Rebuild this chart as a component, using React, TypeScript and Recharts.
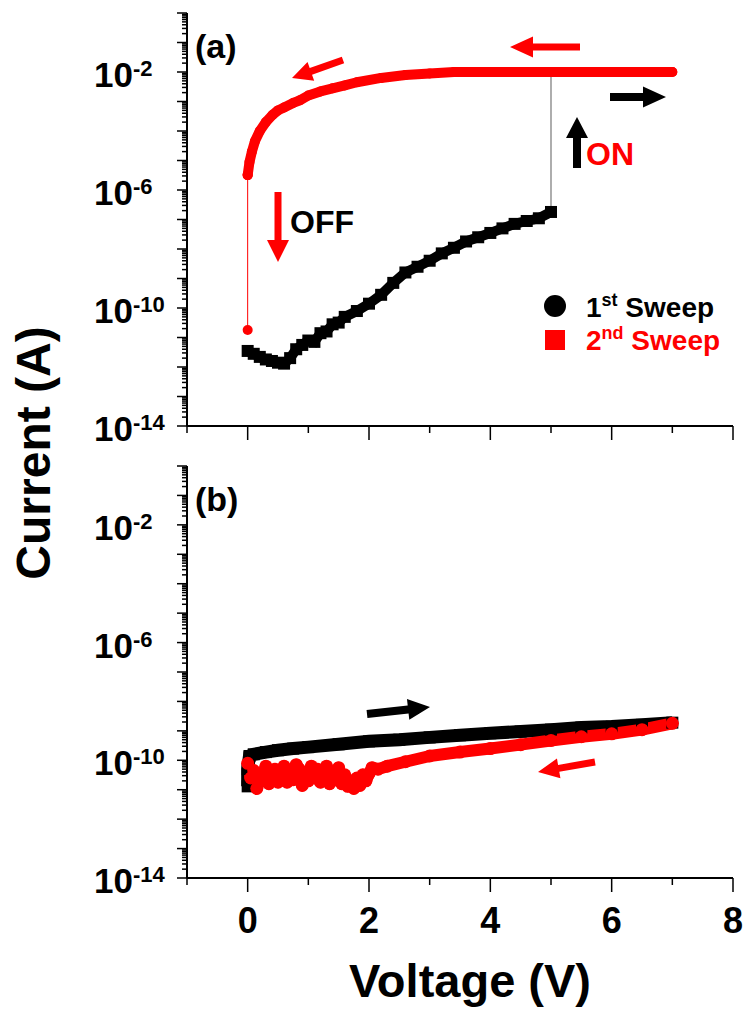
import React from 'react';
import { ComposedChart, Line, XAxis, YAxis, Customized } from 'recharts';

const FONT = "'Liberation Sans', Arial, Helvetica, sans-serif";
const RED = '#ff0000';

// x axis (Voltage, V)
const xTicks = [-1, 0, 1, 2, 3, 4, 5, 6, 7, 8];
// y axis (Current, A) – decades shown, labelled decades
const decadeExps = [-14, -13, -12, -11, -10, -9, -8, -7, -6, -5, -4, -3, -2, -1, 0];
const labelExps = [-14, -10, -6, -2];
const minorSteps = [2, 3, 4, 5, 6, 7, 8, 9];

// (a) 1st sweep, 0 -> 5 V (OFF state)
const sweep1aV = [0, 0.1, 0.2, 0.3, 0.4, 0.5, 0.6, 0.7, 0.8, 0.9, 1.0, 1.1, 1.2, 1.3, 1.4, 1.5, 1.6, 1.8, 2.0, 2.2, 2.4, 2.6, 2.8, 3.0, 3.2, 3.4, 3.6, 3.8, 4.0, 4.2, 4.4, 4.6, 4.8, 5.0];
const sweep1aI = [3.5e-12, 2.8e-12, 2.2e-12, 1.8e-12, 1.6e-12, 1.4e-12, 1.3e-12, 2.0e-12, 4.0e-12, 5.6e-12, 7.9e-12, 7.1e-12, 1.4e-11, 1.6e-11, 2.8e-11, 3.2e-11, 5.0e-11, 7.9e-11, 1.4e-10, 2.8e-10, 7.1e-10, 1.6e-9, 2.5e-9, 4.0e-9, 7.1e-9, 1.1e-8, 1.8e-8, 2.5e-8, 3.5e-8, 5.0e-8, 7.1e-8, 8.9e-8, 1.1e-7, 1.8e-7];
// (a) set jump at 5 V
const setV = [5, 5];
const setI = [1.8e-7, 1e-2];
// (a) 2nd sweep, 7 -> 0 V (ON state)
const sweep2aV = [7.0, 6.0, 5.0, 4.0, 3.4, 3.0, 2.6, 2.2, 1.8, 1.6, 1.4, 1.2, 1.0, 0.86, 0.75, 0.6, 0.5, 0.41, 0.3, 0.2, 0.12, 0.07, 0.03, 0.0];
const sweep2aI = [1e-2, 1e-2, 1e-2, 1e-2, 1e-2, 8.9e-3, 7.9e-3, 6.3e-3, 4.5e-3, 3.5e-3, 2.8e-3, 2.2e-3, 1.6e-3, 1.1e-3, 8.9e-4, 6.3e-4, 5.0e-4, 3.5e-4, 2.0e-4, 1.0e-4, 4.5e-5, 2.0e-5, 8.9e-6, 3.2e-6];
// (a) reset drop at 0 V
const resetV = [0, 0];
const resetI = [3.2e-6, 1.8e-11];

// (b) 1st sweep 0 -> 7 V
const sweep1bV = [0, 0, 0.03, 0.1, 0.3, 0.5, 0.75, 1.0, 1.5, 2.0, 2.5, 3.0, 3.5, 4.0, 4.5, 5.0, 5.5, 6.0, 6.5, 7.0];
const sweep1bI = [1.3e-11, 5.0e-11, 1.4e-10, 1.6e-10, 1.9e-10, 2.2e-10, 2.5e-10, 2.8e-10, 3.5e-10, 4.4e-10, 5.0e-10, 6.0e-10, 7.1e-10, 8.3e-10, 9.5e-10, 1.1e-9, 1.3e-9, 1.4e-9, 1.6e-9, 1.9e-9];
// (b) 2nd sweep 7 -> 0 V (noisy below 2 V)
const sweep2bV = [
  7.0, 6.5, 6.0, 5.5, 5.0, 4.5, 4.0, 3.5, 3.0, 2.6, 2.3, 2.15,
  2.05, 2.0, 1.95, 1.9, 1.85, 1.8, 1.75, 1.7, 1.65, 1.6, 1.55, 1.5, 1.45, 1.4, 1.35, 1.3, 1.25, 1.2, 1.15, 1.1, 1.05,
  1.0, 0.95, 0.9, 0.85, 0.8, 0.75, 0.7, 0.65, 0.6, 0.55, 0.5, 0.45, 0.4, 0.35, 0.3, 0.25, 0.2, 0.15, 0.1, 0.05, 0.0,
];
const sweep2bI = [
  1.8e-9, 1.1e-9, 7.9e-10, 6.3e-10, 4.7e-10, 3.4e-10, 2.5e-10, 1.9e-10, 1.4e-10, 8.9e-11, 6.3e-11, 5.0e-11,
  5.6e-11, 3.5e-11, 2.0e-11, 3.2e-11, 1.4e-11, 2.5e-11, 1.1e-11, 2.0e-11, 1.3e-11, 3.2e-11, 1.6e-11, 5.6e-11, 2.2e-11, 4.0e-11, 1.6e-11, 6.3e-11, 2.8e-11, 1.8e-11, 5.0e-11, 2.5e-11, 6.3e-11,
  2.0e-11, 3.5e-11, 1.4e-11, 5.0e-11, 7.1e-11, 2.2e-11, 4.5e-11, 1.8e-11, 6.3e-11, 2.8e-11, 1.8e-11, 5.0e-11, 2.5e-11, 1.6e-11, 6.3e-11, 3.2e-11, 2.0e-11, 1.1e-11, 4.5e-11, 2.5e-11, 7.9e-11,
];

const legendItems = [
  { num: '1', sup: 'st', color: '#000', shape: 'circle' },
  { num: '2', sup: 'nd', color: RED, shape: 'square' },
];

const pts = (vs: number[], is: number[]) => vs.map((v, k) => ({ v, i: is[k] }));

const yTicks: number[] = [];
decadeExps.forEach((n) => {
  yTicks.push(Math.pow(10, n));
  if (n < 0) minorSteps.forEach((m) => yTicks.push(m * Math.pow(10, n)));
});

const YTick = (props: any) => {
  const { x, y, payload } = props;
  const e = Math.log10(payload.value);
  const n = Math.round(e);
  const major = Math.abs(e - n) < 1e-6;
  return (
    <g>
      <line x1={x} x2={x - (major ? 10 : 5)} y1={y} y2={y} stroke="#000" strokeWidth={1.5} />
      {major && labelExps.includes(n) && (
        <text x={x - 93} y={y + 15} fontFamily={FONT} fontWeight="bold" fontSize={35} fill="#000">
          10
          <tspan dy={-11} fontSize={22}>{String(n)}</tspan>
        </text>
      )}
    </g>
  );
};

const makeXTick = (showLabel: boolean) => (props: any) => {
  const { x, y, payload } = props;
  const v = payload.value;
  const major = v % 2 === 0;
  return (
    <g>
      <line x1={x} x2={x} y1={y} y2={y + (major ? 14 : 7)} stroke="#000" strokeWidth={1.5} />
      {showLabel && major && (
        <text x={x} y={y + 55} textAnchor="middle" fontFamily={FONT} fontWeight="bold" fontSize={36} fill="#000">
          {v}
        </text>
      )}
    </g>
  );
};

function arrow(x1: number, y1: number, x2: number, y2: number, shaft: number, headLen: number, headW: number, color: string) {
  const dx = x2 - x1;
  const dy = y2 - y1;
  const len = Math.hypot(dx, dy);
  const ux = dx / len;
  const uy = dy / len;
  const px = -uy;
  const py = ux;
  const bx = x2 - ux * headLen;
  const by = y2 - uy * headLen;
  const s = shaft / 2;
  const h = headW / 2;
  const p = [
    [x1 + px * s, y1 + py * s],
    [bx + px * s, by + py * s],
    [bx + px * h, by + py * h],
    [x2, y2],
    [bx - px * h, by - py * h],
    [bx - px * s, by - py * s],
    [x1 - px * s, y1 - py * s],
  ];
  return <polygon points={p.map((q) => q.join(',')).join(' ')} fill={color} />;
}

const squareDot = (size: number) => (props: any) => {
  const { cx, cy, index } = props;
  if (cx == null || cy == null) return <g key={index} />;
  return <rect key={index} x={cx - size / 2} y={cy - size / 2} width={size} height={size} fill="#000" />;
};

const AnnotA = () => (
  <g>
    <text x={195} y={58} fontFamily={FONT} fontWeight="bold" fontSize={34} fill="#000">(a)</text>
    {arrow(343, 60, 292, 78, 7, 20, 20, RED)}
    {arrow(580, 47, 510, 47, 7, 23, 21, RED)}
    {arrow(610, 97, 666, 97, 8, 23, 21, '#000')}
    {arrow(577, 168, 577, 117, 8, 21, 22, '#000')}
    {arrow(278, 192, 278, 262, 7, 22, 22, RED)}
    <text x={586} y={165} fontFamily={FONT} fontWeight="bold" fontSize={32} fill={RED}>ON</text>
    <text x={290} y={233} fontFamily={FONT} fontWeight="bold" fontSize={32} fill="#000">OFF</text>
    {legendItems.map((it, k) => {
      const cy = 306 + k * 33;
      return (
        <g key={k}>
          {it.shape === 'circle' ? (
            <circle cx={555} cy={cy} r={11} fill={it.color} />
          ) : (
            <rect x={545} y={cy - 9} width={20} height={20} fill={it.color} />
          )}
          <text x={586} y={cy + 11} fontFamily={FONT} fontWeight="bold" fontSize={28} fill={it.color}>
            {it.num}
            <tspan dy={-11} fontSize={18}>{it.sup}</tspan>
            <tspan dy={11}> Sweep</tspan>
          </text>
        </g>
      );
    })}
  </g>
);

const AnnotB = () => (
  <g>
    <text x={195} y={71} fontFamily={FONT} fontWeight="bold" fontSize={34} fill="#000">(b)</text>
    {arrow(367, 274, 430, 267, 8, 22, 21, '#000')}
    {arrow(595, 322, 538, 332, 7, 21, 20, RED)}
    <text x={470} y={557} textAnchor="middle" fontFamily={FONT} fontWeight="bold" fontSize={47} fill="#000">
      Voltage (V)
    </text>
  </g>
);

const axisLine = { stroke: '#000', strokeWidth: 2 };

function Frame({ showXLabels }: { showXLabels: boolean }) {
  return [
    <XAxis
      key="xb"
      xAxisId="x"
      dataKey="v"
      type="number"
      domain={[-1, 8]}
      allowDataOverflow
      ticks={xTicks}
      interval={0}
      tickSize={0}
      tickMargin={0}
      tickLine={false}
      axisLine={axisLine}
      tick={makeXTick(showXLabels)}
      height={showXLabels ? 131 : 34}
    />,
    <XAxis key="xt" xAxisId="top" orientation="top" type="number" domain={[0, 1]} height={0} tick={false} tickLine={false} axisLine={axisLine} />,
    <YAxis
      key="yl"
      yAxisId="y"
      dataKey="i"
      type="number"
      scale="log"
      domain={[1e-14, 1]}
      allowDataOverflow
      ticks={yTicks}
      interval={0}
      tickSize={0}
      tickMargin={0}
      tickLine={false}
      axisLine={axisLine}
      tick={YTick}
      width={187}
    />,
    <YAxis key="yr" yAxisId="right" orientation="right" type="number" domain={[0, 1]} width={0} tick={false} tickLine={false} axisLine={axisLine} />,
  ];
}

export default function App() {
  return (
    <div style={{ position: 'absolute', left: 0, top: 0, width: 745, height: 1009, background: '#fff' }}>
      <svg width={80} height={1009} style={{ position: 'absolute', left: 0, top: 0 }}>
        <text x={50} y={453} transform="rotate(-90 50 453)" textAnchor="middle" fontFamily={FONT} fontWeight="bold" fontSize={48} fill="#000">
          Current (A)
        </text>
      </svg>

      <div style={{ position: 'absolute', left: 0, top: 0 }}>
        <ComposedChart width={745} height={460} margin={{ top: 13, right: 12, bottom: 0, left: 0 }}>
          {Frame({ showXLabels: false })}
          <Line xAxisId="x" yAxisId="y" data={pts(sweep1aV, sweep1aI)} dataKey="i" type="linear" stroke="#000" strokeWidth={10} strokeLinejoin="miter" dot={squareDot(12)} activeDot={false} isAnimationActive={false} />
          <Line xAxisId="x" yAxisId="y" data={pts(setV, setI)} dataKey="i" type="linear" stroke="#777" strokeWidth={1.2} dot={false} activeDot={false} isAnimationActive={false} />
          <Line xAxisId="x" yAxisId="y" data={pts(resetV, resetI)} dataKey="i" type="linear" stroke={RED} strokeWidth={1} dot={{ r: 5, fill: RED, stroke: 'none' }} activeDot={false} isAnimationActive={false} />
          <Line xAxisId="x" yAxisId="y" data={pts(sweep2aV, sweep2aI)} dataKey="i" type="linear" stroke={RED} strokeWidth={10} strokeLinecap="round" strokeLinejoin="round" dot={{ r: 5, fill: RED, stroke: 'none' }} activeDot={false} isAnimationActive={false} />
          <Customized component={AnnotA} />
        </ComposedChart>
      </div>

      <div style={{ position: 'absolute', left: 0, top: 440 }}>
        <ComposedChart width={745} height={569} margin={{ top: 26, right: 12, bottom: 0, left: 0 }}>
          {Frame({ showXLabels: true })}
          <Line xAxisId="x" yAxisId="y" data={pts(sweep1bV, sweep1bI)} dataKey="i" type="linear" stroke="#000" strokeWidth={13} strokeLinejoin="miter" dot={squareDot(12)} activeDot={false} isAnimationActive={false} />
          <Line xAxisId="x" yAxisId="y" data={pts(sweep2bV, sweep2bI)} dataKey="i" type="linear" stroke={RED} strokeWidth={12} strokeLinecap="round" strokeLinejoin="round" dot={{ r: 6.5, fill: RED, stroke: 'none' }} activeDot={false} isAnimationActive={false} />
          <Customized component={AnnotB} />
        </ComposedChart>
      </div>
    </div>
  );
}
